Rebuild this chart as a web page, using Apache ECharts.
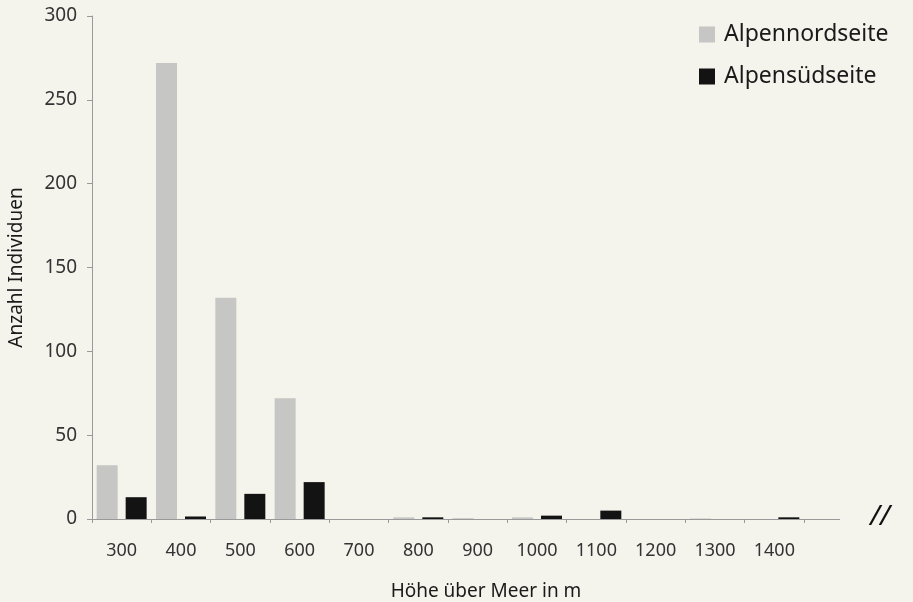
<!DOCTYPE html>
<html>
<head>
<meta charset="utf-8">
<script src="https://cdn.jsdelivr.net/npm/echarts@6/dist/echarts.min.js"></script>
<style>
html,body{margin:0;padding:0;background:#f4f4ec;}
#chart{width:913px;height:602px;}
</style>
</head>
<body>
<div id="chart"></div>
<script>
const categories = ['300','400','500','600','700','800','900','1000','1100','1200','1300','1400'];
const nord = [32, 272, 132, 72, 0, 1, 0.5, 1, 0, 0, 0.3, 0];
const sued = [13, 1.5, 15, 22, 0, 1, 0, 2, 5, 0, 0, 1];
const yTicks = [0, 50, 100, 150, 200, 250, 300];

const font = '"Noto Sans", "Open Sans", sans-serif';
const chart = echarts.init(document.getElementById('chart'));
chart.setOption({
  backgroundColor: '#f4f4ec',
  animation: false,
  textStyle: {fontFamily: font},
  grid: {left: 92, right: 109, top: 16, bottom: 83, containLabel: false, outerBoundsMode: 'none'},
  legend: {
    orient: 'vertical', left: 694, top: 18, itemWidth: 16, itemHeight: 16, itemGap: 19,
    icon: 'rect',
    textStyle: {fontSize: 23, color: '#1a1a1a', fontFamily: font, padding: [0,0,0,4]},
    data: ['Alpennordseite', 'Alpensüdseite']
  },
  xAxis: {
    type: 'category', data: categories,
    name: 'Höhe über Meer in m', nameLocation: 'middle', nameGap: 63,
    nameTextStyle: {fontSize: 19, color: '#1a1a1a', padding: [0,0,0,76]},
    axisLine: {lineStyle: {color: '#999', width: 1}},
    axisTick: {show: true, length: 4, lineStyle: {color: '#999'}},
    axisLabel: {fontSize: 18, color: '#333', margin: 23}
  },
  yAxis: {
    type: 'value', min: yTicks[0], max: yTicks[yTicks.length-1], interval: 50,
    name: 'Anzahl Individuen', nameLocation: 'middle', nameGap: 66,
    nameTextStyle: {fontSize: 19, color: '#1a1a1a'},
    axisLine: {show: true, lineStyle: {color: '#999', width: 1}},
    axisTick: {show: true, length: 5, lineStyle: {color: '#999'}},
    splitLine: {show: false},
    axisLabel: {fontSize: 19, color: '#333', margin: 15}
  },
  series: [
    {name: 'Alpennordseite', type: 'bar', data: nord, barWidth: 21, barGap: '38%',
     itemStyle: {color: '#c6c6c4'}},
    {name: 'Alpensüdseite', type: 'bar', data: sued, barWidth: 21,
     itemStyle: {color: '#131313'}}
  ],
  graphic: [
    {type: 'line', shape: {x1: 804, y1: 519.5, x2: 840, y2: 519.5}, style: {stroke: '#999', lineWidth: 1}},
    {type: 'text', left: 870, top: 503, style: {text: '//', font: 'italic 28px ' + font, fill: '#111'}}
  ]
});
</script>
</body>
</html>
